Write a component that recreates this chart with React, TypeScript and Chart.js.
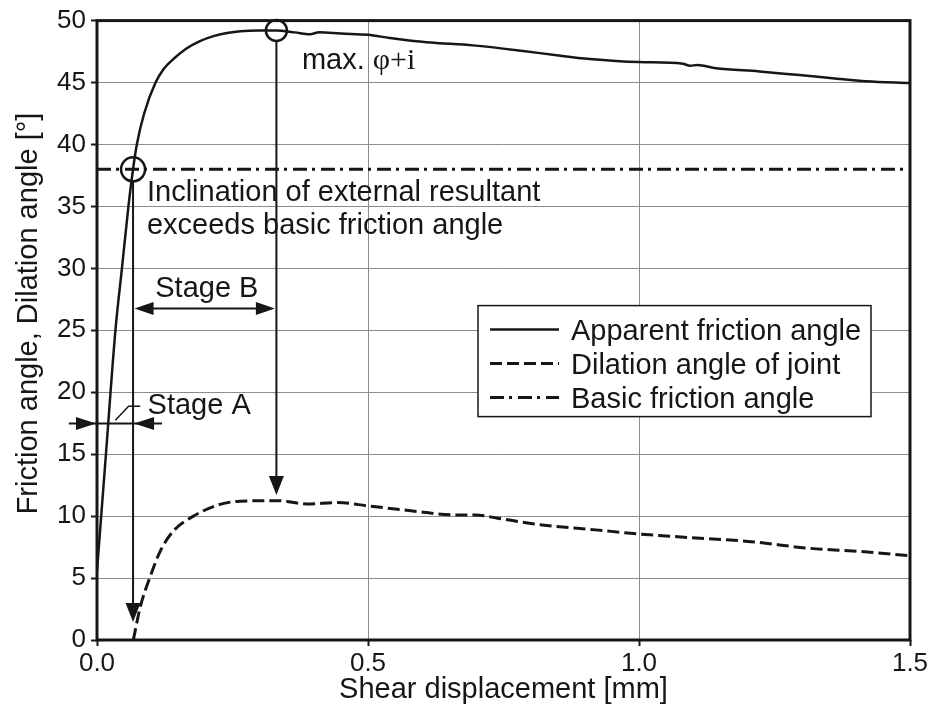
import React, { useEffect, useRef } from "react";
import { Chart, registerables } from "chart.js";

Chart.register(...registerables);

const FONT = '"Liberation Sans", Arial, Helvetica, sans-serif';
const SERIF = '"Liberation Serif", "Times New Roman", serif';
const INK = "#161616";
const GRID = "#8c8c8c";

// Apparent friction angle (φ + i) versus shear displacement
const apparentX = [0, 0.0165, 0.034, 0.046, 0.058, 0.0665, 0.0735, 0.087, 0.108, 0.123, 0.141, 0.165, 0.19, 0.215, 0.24, 0.265, 0.3, 0.331, 0.365, 0.393, 0.41, 0.45, 0.5, 0.54, 0.608, 0.694, 0.786, 0.848, 0.909, 1.0, 1.081, 1.094, 1.108, 1.142, 1.222, 1.296, 1.357, 1.419, 1.5];
const apparentY = [5.6, 15.0, 25.0, 30.0, 35.0, 38.0, 40.0, 42.5, 45.0, 46.1, 46.9, 47.75, 48.35, 48.75, 49.0, 49.15, 49.2, 49.2, 49.05, 48.9, 49.05, 48.95, 48.85, 48.6, 48.25, 48.0, 47.55, 47.2, 46.9, 46.65, 46.52, 46.35, 46.42, 46.16, 45.9, 45.6, 45.35, 45.1, 44.96];

// Dilation angle of the joint
const dilationX = [0.067, 0.08, 0.098, 0.117, 0.141, 0.178, 0.227, 0.264, 0.333, 0.387, 0.444, 0.501, 0.592, 0.657, 0.698, 0.739, 0.821, 0.92, 1.0, 1.083, 1.206, 1.313, 1.41, 1.5];
const dilationY = [0, 2.7, 5.1, 7.2, 8.8, 10.0, 10.95, 11.2, 11.25, 10.98, 11.09, 10.82, 10.37, 10.1, 10.1, 9.83, 9.29, 8.89, 8.56, 8.3, 7.94, 7.41, 7.14, 6.8];

// Basic friction angle (constant)
const basicX = [0, 1.5];
const basicY = [38, 38];

// Marked points: onset of stage B and the peak of φ + i
const markerX = [0.0665, 0.331];
const markerY = [38, 49.2];

// Axis ranges
const X_MIN = 0, X_MAX = 1.5, X_STEP = 0.5;
const Y_MIN = 0, Y_MAX = 50, Y_STEP = 5;

const toPoints = (xs: number[], ys: number[]) => xs.map((x, i) => ({ x, y: ys[i] }));

function arrowHead(ctx: CanvasRenderingContext2D, x1: number, y1: number, x2: number, y2: number, len = 19, half = 7) {
  const a = Math.atan2(y2 - y1, x2 - x1);
  ctx.beginPath();
  ctx.moveTo(x2, y2);
  ctx.lineTo(x2 - len * Math.cos(a) + half * Math.sin(a), y2 - len * Math.sin(a) - half * Math.cos(a));
  ctx.lineTo(x2 - len * Math.cos(a) - half * Math.sin(a), y2 - len * Math.sin(a) + half * Math.cos(a));
  ctx.closePath();
  ctx.fill();
}

function line(ctx: CanvasRenderingContext2D, x1: number, y1: number, x2: number, y2: number) {
  ctx.beginPath();
  ctx.moveTo(x1, y1);
  ctx.lineTo(x2, y2);
  ctx.stroke();
}

// Frame around the plotting area
const framePlugin = {
  id: "frame",
  afterDatasetsDraw(chart: any) {
    const { ctx, chartArea: a } = chart;
    ctx.save();
    ctx.strokeStyle = INK;
    ctx.lineWidth = 3;
    ctx.strokeRect(a.left, a.top, a.right - a.left, a.bottom - a.top);
    ctx.restore();
  },
};

// Arrows, labels and leader lines placed in data coordinates
const notesPlugin = {
  id: "notes",
  afterDatasetsDraw(chart: any) {
    const { ctx } = chart;
    const xs = chart.scales.x;
    const ys = chart.scales.y;
    const px = (v: number) => xs.getPixelForValue(v);
    const py = (v: number) => ys.getPixelForValue(v);
    ctx.save();
    ctx.strokeStyle = INK;
    ctx.fillStyle = INK;
    ctx.lineWidth = 2;
    ctx.setLineDash([]);

    // vertical arrows dropping from the two marked points
    const drops = [
      { x: markerX[0], from: markerY[0], to: 1.45, r: 12 },
      { x: markerX[1], from: markerY[1], to: 11.7, r: 10.5 },
    ];
    drops.forEach((d) => {
      const x = px(d.x);
      const y1 = py(d.from) + d.r;
      const y2 = py(d.to);
      line(ctx, x, y1, x, y2 - 10);
      arrowHead(ctx, x, y1, x, y2, 19, 7.5);
    });

    // Stage B: double-headed arrow between the two drops
    {
      const y = py(26.75);
      const xa = px(markerX[0]) + 1.5;
      const xb = px(markerX[1]) - 1.5;
      line(ctx, xa + 10, y, xb - 10, y);
      arrowHead(ctx, xb, y, xa, y, 19, 6.5);
      arrowHead(ctx, xa, y, xb, y, 19, 6.5);
    }

    // Stage A: two arrows pointing inwards
    {
      const y = py(17.48);
      const xl = px(0) - 1;
      const xr = px(markerX[0]) + 1;
      line(ctx, px(-0.052), y, px(0.12), y);
      arrowHead(ctx, px(-0.052), y, xl, y, 20, 6.5);
      arrowHead(ctx, px(0.12), y, xr, y, 20, 6.5);
      // leader to the label
      ctx.lineWidth = 1.5;
      ctx.beginPath();
      ctx.moveTo(px(0.0338), py(17.74));
      ctx.lineTo(px(0.0583), py(18.87));
      ctx.lineTo(px(0.0799), py(18.87));
      ctx.stroke();
    }

    // text labels
    ctx.textBaseline = "alphabetic";
    ctx.textAlign = "left";
    ctx.font = `29px ${FONT}`;
    ctx.fillText("Inclination of external resultant", px(0.0922), py(35.44));
    ctx.fillText("exceeds basic friction angle", px(0.0922), py(32.8));
    ctx.fillText("Stage B", px(0.1075), py(27.72));
    ctx.fillText("Stage A", px(0.0933), py(18.28));
    const mx = px(0.378);
    const my = py(46.1);
    ctx.fillText("max. ", mx, my);
    const w = ctx.measureText("max. ").width;
    ctx.font = `30px ${SERIF}`;
    ctx.fillText("φ+i", mx + w, my);
    ctx.restore();
  },
};

// Boxed legend inside the plotting area
const legendPlugin = {
  id: "boxLegend",
  afterDatasetsDraw(chart: any) {
    const { ctx, chartArea: a } = chart;
    const x0 = a.left + 381;
    const y0 = a.top + 285;
    const w = 393;
    const h = 111;
    ctx.save();
    ctx.fillStyle = "#ffffff";
    ctx.fillRect(x0, y0, w, h);
    ctx.strokeStyle = INK;
    ctx.lineWidth = 1.5;
    ctx.strokeRect(x0, y0, w, h);
    const items = chart.data.datasets.filter((d: any) => d.label);
    items.forEach((d: any, i: number) => {
      const base = y0 + 34 + i * 34;
      const mid = base - 10;
      ctx.strokeStyle = INK;
      ctx.setLineDash(d.borderDash || []);
      ctx.lineWidth = d.borderWidth;
      line(ctx, x0 + 12, mid, x0 + 81, mid);
      ctx.setLineDash([]);
      ctx.font = `29px ${FONT}`;
      ctx.fillStyle = INK;
      ctx.textBaseline = "alphabetic";
      ctx.textAlign = "left";
      ctx.fillText(d.label, x0 + 93, base);
    });
    ctx.restore();
  },
};

// Vertical axis title
const yTitlePlugin = {
  id: "yTitle",
  afterDraw(chart: any) {
    const { ctx } = chart;
    ctx.save();
    ctx.translate(37, 313.5);
    ctx.rotate(-Math.PI / 2);
    ctx.font = `29px ${FONT}`;
    ctx.fillStyle = INK;
    ctx.textAlign = "center";
    ctx.textBaseline = "alphabetic";
    ctx.fillText("Friction angle, Dilation angle [°]", 0, 0);
    ctx.restore();
  },
};

export default function App() {
  const ref = useRef<HTMLCanvasElement | null>(null);

  useEffect(() => {
    if (!ref.current) return;
    const chart = new Chart(ref.current, {
      type: "line",
      data: {
        datasets: [
          {
            label: "Apparent friction angle",
            data: toPoints(apparentX, apparentY),
            borderColor: INK,
            borderWidth: 2.5,
            pointRadius: 0,
            cubicInterpolationMode: "monotone",
            fill: false,
          },
          {
            label: "Dilation angle of joint",
            data: toPoints(dilationX, dilationY),
            borderColor: INK,
            borderWidth: 3,
            borderDash: [12, 5],
            pointRadius: 0,
            cubicInterpolationMode: "monotone",
            fill: false,
          },
          {
            label: "Basic friction angle",
            data: toPoints(basicX, basicY),
            borderColor: INK,
            borderWidth: 3,
            borderDash: [14, 5, 3, 6],
            pointRadius: 0,
            fill: false,
          },
          {
            data: toPoints(markerX, markerY),
            showLine: false,
            pointStyle: "circle",
            pointRadius: [12, 10.5],
            pointBorderWidth: 2.5,
            pointBorderColor: INK,
            pointBackgroundColor: "rgba(0,0,0,0)",
            borderColor: INK,
            clip: false as any,
          } as any,
        ],
      },
      options: {
        animation: false,
        responsive: false,
        devicePixelRatio: 1,
        events: [],
        layout: { padding: { top: 20, right: 26, left: 0, bottom: 0 } },
        plugins: {
          legend: { display: false },
          tooltip: { enabled: false },
        },
        scales: {
          x: {
            type: "linear",
            min: X_MIN,
            max: X_MAX,
            afterFit: (s: any) => {
              s.height = 68;
            },
            afterBuildTicks: (s: any) => {
              const t = [];
              for (let v = X_MIN; v <= X_MAX + 1e-9; v += X_STEP) t.push({ value: +v.toFixed(2) });
              s.ticks = t;
            },
            ticks: {
              callback: (v: any) => Number(v).toFixed(1),
              color: INK,
              font: { family: FONT, size: 26 },
              padding: 2,
              maxRotation: 0,
            },
            grid: { color: GRID, lineWidth: 1, tickColor: INK, tickLength: 6, tickWidth: 2 },
            border: { display: false },
            title: {
              display: true,
              text: "Shear displacement [mm]",
              color: INK,
              font: { family: FONT, size: 29 },
              padding: { top: 0, bottom: 1 },
            },
          },
          y: {
            type: "linear",
            min: Y_MIN,
            max: Y_MAX,
            afterFit: (s: any) => {
              s.width = 97;
            },
            ticks: {
              stepSize: Y_STEP,
              color: INK,
              font: { family: FONT, size: 26 },
              padding: 5,
            },
            grid: { color: GRID, lineWidth: 1, tickColor: INK, tickLength: 6, tickWidth: 2 },
            border: { display: false },
          },
        },
      },
      plugins: [framePlugin, notesPlugin, legendPlugin, yTitlePlugin],
    } as any);
    return () => chart.destroy();
  }, []);

  return (
    <div style={{ position: "fixed", left: 0, top: 0, width: 936, height: 708, background: "#fff" }}>
      <canvas ref={ref} width={936} height={708} style={{ display: "block", width: 936, height: 708 }} />
    </div>
  );
}
